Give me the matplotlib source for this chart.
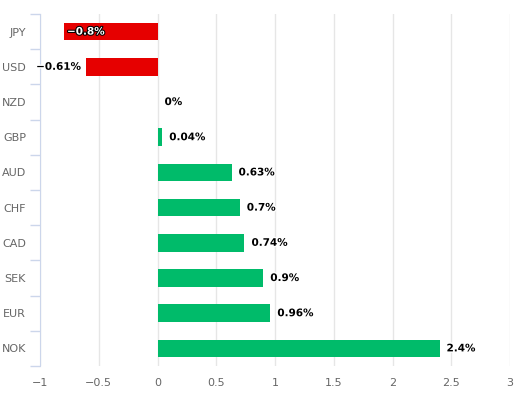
import matplotlib
matplotlib.use("Agg")
import matplotlib.pyplot as plt
import matplotlib.patheffects as pe
import numpy as np

currencies = ["JPY", "USD", "NZD", "GBP", "AUD", "CHF", "CAD", "SEK", "EUR", "NOK"]
changes = [-0.8, -0.61, 0.0, 0.04, 0.63, 0.7, 0.74, 0.9, 0.96, 2.4]
labels = ["\u22120.8%", "\u22120.61%", "0%", "0.04%", "0.63%", "0.7%", "0.74%", "0.9%", "0.96%", "2.4%"]
xticks = [-1, -0.5, 0, 0.5, 1, 1.5, 2, 2.5, 3]
xticklabels = ["\u22121", "\u22120.5", "0", "0.5", "1", "1.5", "2", "2.5", "3"]

red = "#e60000"
green = "#00bb6a"

fig = plt.figure(figsize=(5.24, 3.98), dpi=100)
ax = fig.add_axes([40 / 524, 32 / 398, 470 / 524, 352 / 398])

y = np.arange(len(currencies))
colors = [red if v < 0 else green for v in changes]
ax.barh(y, changes, height=0.5, color=colors, zorder=3)

ax.set_xlim(-1, 3)
ax.set_ylim(len(currencies) - 0.5, -0.5)
ax.set_xticks(xticks)
ax.set_xticklabels(xticklabels)
ax.grid(axis="x", color="#e6e6e6", linewidth=1, zorder=0)
ax.tick_params(axis="x", length=0, pad=9, labelsize=8, labelcolor="#666666")

# y axis: labels centered, ticks on category boundaries
ax.set_yticks(y)
ax.set_yticklabels(currencies)
ax.tick_params(axis="y", which="major", length=0, pad=10, labelsize=8, labelcolor="#666666")
ax.set_yticks(np.arange(-0.5, len(currencies), 1), minor=True)
ax.tick_params(axis="y", which="minor", length=7, color="#ccd6eb", width=1)

for s in ["top", "right", "bottom"]:
    ax.spines[s].set_visible(False)
ax.spines["left"].set_color("#ccd6eb")

stroke_w = [pe.withStroke(linewidth=2, foreground="white")]
stroke_b = [pe.withStroke(linewidth=1.5, foreground="black")]
for i, (v, lab) in enumerate(zip(changes, labels)):
    if i == 0:
        ax.text(v + 0.03, i, lab, ha="left", va="center", fontsize=7.5, fontweight="bold",
                color="white", path_effects=stroke_b, zorder=4)
    elif v < 0:
        ax.text(v - 0.04, i, lab, ha="right", va="center", fontsize=7.5, fontweight="bold",
                color="black", path_effects=stroke_w, zorder=4)
    else:
        ax.text(v + 0.06, i, lab, ha="left", va="center", fontsize=7.5, fontweight="bold",
                color="black", path_effects=stroke_w, zorder=4)

fig.savefig("out.png", dpi=100)
